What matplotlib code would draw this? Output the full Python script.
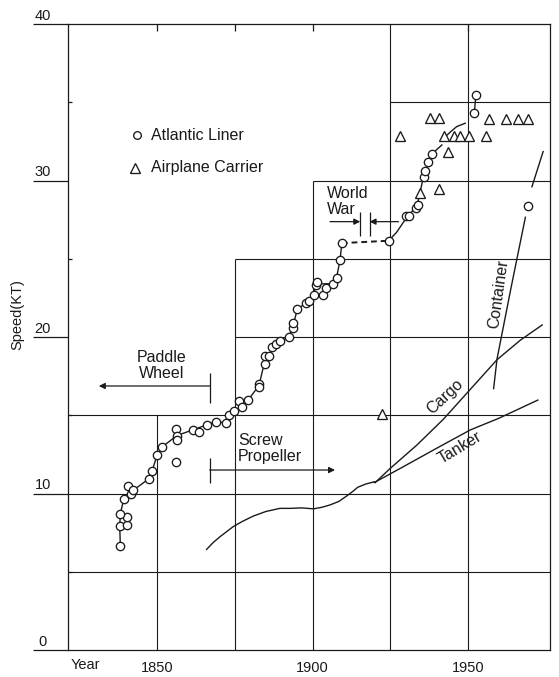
import matplotlib
matplotlib.use("Agg")
import matplotlib.pyplot as plt
from matplotlib.ticker import FixedLocator

plt.rcParams['font.family'] = ['Liberation Sans', 'DejaVu Sans']
INK = '#1a1a1a'

# Atlantic liner records (circles)
liner_year = [1838.3, 1838.1, 1840.3, 1840.3, 1838.3, 1839.4, 1840.6, 1841.6, 1842.4,
              1847.5, 1848.5, 1850.1, 1851.7, 1856.3, 1856.2, 1856.4, 1856.5, 1861.5,
              1863.5, 1866.2, 1869.0, 1872.2, 1873.1, 1874.9, 1876.5, 1877.4, 1879.3,
              1882.8, 1882.8, 1884.7, 1884.7, 1886.0, 1887.1, 1888.3, 1889.4, 1892.4,
              1893.6, 1893.8, 1895.1, 1897.9, 1898.7, 1900.3, 1901.1, 1901.3, 1903.5,
              1904.3, 1906.5, 1907.7, 1908.8, 1909.4, 1924.4, 1930.1, 1930.8, 1933.3,
              1933.7, 1935.6, 1936.2, 1937.2, 1938.3, 1951.9, 1952.4, 1969.2]
liner_speed = [6.65, 7.9, 8.0, 8.5, 8.7, 9.65, 10.5, 10.0, 10.2,
               10.95, 11.45, 12.45, 12.97, 12.0, 14.1, 13.7, 13.45, 14.06,
               13.9, 14.4, 14.6, 14.5, 15.0, 15.27, 15.9, 15.5, 15.97,
               17.0, 16.8, 18.3, 18.8, 18.8, 19.34, 19.55, 19.76, 20.0,
               20.55, 20.9, 21.77, 22.2, 22.3, 22.7, 23.3, 23.5, 22.7,
               23.1, 23.4, 23.8, 24.9, 26.0, 26.15, 27.7, 27.75, 28.25,
               28.45, 30.25, 30.6, 31.2, 31.7, 34.3, 35.46, 28.4]

# trend line through the liner records
trend_year = [1838.3, 1838.1, 1838.3, 1839.4, 1841.6, 1842.4, 1847.5, 1848.5, 1850.1,
              1851.7, 1856.4, 1861.5, 1866.2, 1869.0, 1872.2, 1874.9, 1877.4, 1879.3,
              1882.8, 1884.7, 1888.3, 1892.4, 1893.7, 1895.1, 1898.3, 1900.3, 1901.2,
              1906.5, 1907.7, 1908.8, 1909.4]
trend_speed = [6.65, 7.9, 8.7, 9.65, 10.0, 10.2, 10.95, 11.45, 12.45,
               12.97, 13.7, 14.06, 14.4, 14.6, 14.5, 15.27, 15.5, 15.97,
               16.9, 18.5, 19.55, 20.0, 20.7, 21.77, 22.25, 22.7, 23.4,
               23.4, 23.8, 24.9, 26.0]
war_year = [1909.4, 1924.4]
war_speed = [26.0, 26.15]
after_year = [1924.4, 1927.0, 1930.4, 1933.5, 1935.6, 1938.3, 1941.5]
after_speed = [26.15, 26.7, 27.7, 28.35, 30.25, 31.7, 32.27]
tail_year = [1942.6, 1944.5, 1946.3, 1949.0]
tail_speed = [32.8, 33.15, 33.45, 33.66]
late_year = [1951.9, 1952.4]
late_speed = [34.3, 35.46]

# airplane carriers (triangles)
carrier_year = [1922.4, 1927.9, 1934.6, 1937.8, 1940.5, 1940.6, 1942.3, 1943.4, 1945.3,
                1947.4, 1950.3, 1955.7, 1956.5, 1962.2, 1965.8, 1969.0]
carrier_speed = [15.1, 32.85, 29.2, 34.0, 34.0, 29.45, 32.85, 31.85, 32.85,
                 32.85, 32.85, 32.85, 33.9, 33.9, 33.9, 33.9]

# merchant ships
general_year = [1866.0, 1868.0, 1870.3, 1874.5, 1877.5, 1881.0, 1885.0, 1889.5, 1892.8,
                1896.5, 1900.3, 1903.0, 1905.6, 1908.5, 1911.0, 1913.0, 1914.5, 1917.0,
                1919.8]
general_speed = [6.43, 6.85, 7.24, 7.88, 8.22, 8.56, 8.85, 9.05, 9.05,
                 9.08, 9.02, 9.12, 9.27, 9.5, 9.85, 10.15, 10.4, 10.6,
                 10.75]
cargo_year = [1920.1, 1924.9, 1933.5, 1942.0, 1950.6, 1959.2, 1966.7, 1973.7]
cargo_speed = [10.7, 11.6, 13.1, 14.75, 16.65, 18.55, 19.8, 20.77]
tanker_year = [1919.8, 1929.2, 1939.9, 1950.6, 1959.7, 1972.3]
tanker_speed = [10.7, 11.72, 12.9, 14.06, 14.8, 15.97]
container_year = [1958.1, 1959.2, 1963.7, 1968.3, 1970.4, 1974.0]
container_speed = [16.7, 18.6, 23.15, 27.65, 29.6, 31.85]

# staggered grid
hgrid_y = [5, 10, 15, 20, 25, 30, 35]
hgrid_from = [1821.5, 1821.5, 1821.5, 1875, 1875, 1900, 1925]
vgrid_x = [1850, 1875, 1900, 1925, 1950]
vgrid_top = [15, 25, 30, 40, 40]

XMIN, XMAX = 1821.5, 1976.2
FS = 11.5

fig = plt.figure(figsize=(5.59, 6.77), dpi=100)
ax = fig.add_axes([68 / 559, 27 / 677, 482 / 559, 626 / 677])
ax.set_xlim(XMIN, XMAX)
ax.set_ylim(0, 40)

for s in ax.spines.values():
    s.set_color(INK)
    s.set_linewidth(0.9)

ax.hlines(hgrid_y, hgrid_from, XMAX, color=INK, lw=0.8, zorder=1)
ax.vlines(vgrid_x, 0, vgrid_top, color=INK, lw=0.8, zorder=1)

# y ticks: long outward majors, short inward minors
ax.yaxis.set_major_locator(FixedLocator([0, 10, 20, 30, 40]))
ax.yaxis.set_minor_locator(FixedLocator([5, 15, 25, 35]))
ax.tick_params(axis='y', which='major', direction='out', length=25, width=0.9,
               color=INK, labelleft=False)
ax.tick_params(axis='y', which='minor', direction='in', length=3, width=0.9, color=INK)
for v in [0, 10, 20, 30, 40]:
    ax.text(-0.052, v + 0.28, str(v), transform=ax.get_yaxis_transform(),
            ha='center', va='baseline', fontsize=10.5, color=INK)

ax.xaxis.set_major_locator(FixedLocator([1850, 1900, 1950]))
ax.xaxis.set_minor_locator(FixedLocator([1875]))
ax.tick_params(axis='x', which='both', bottom=False, top=True, direction='in',
               length=5, width=0.9, color=INK, labelsize=10.5, labelcolor=INK, pad=8)
ax.text(1822.2, -0.95, 'Year', ha='left', va='center', fontsize=10.5, color=INK)
fig.text(17 / 559, 1 - 315 / 677, 'Speed(KT)', rotation=90, ha='center', va='center',
         fontsize=10.5, color=INK)

line_kw = dict(color=INK, lw=1.0, zorder=2)
ax.plot(trend_year, trend_speed, **line_kw)
ax.plot(war_year, war_speed, color=INK, lw=1.4, dashes=(3, 2), zorder=2)
ax.plot(after_year, after_speed, **line_kw)
ax.plot(tail_year, tail_speed, **line_kw)
ax.plot(late_year, late_speed, **line_kw)
ax.plot(general_year, general_speed, **line_kw)
ax.plot(cargo_year, cargo_speed, **line_kw)
ax.plot(tanker_year, tanker_speed, **line_kw)
ax.plot(container_year[:4], container_speed[:4], **line_kw)
ax.plot(container_year[4:], container_speed[4:], **line_kw)

ax.plot(liner_year, liner_speed, 'o', ms=6.0, mfc='white', mec=INK, mew=0.95,
        ls='none', zorder=3)
ax.plot(carrier_year, carrier_speed, '^', ms=7.0, mfc='white', mec=INK, mew=0.95,
        ls='none', zorder=3)

# legend
ax.plot([1843.6], [32.9], 'o', ms=5.5, mfc='white', mec=INK, mew=0.95)
ax.plot([1842.9], [30.8], '^', ms=6.5, mfc='white', mec=INK, mew=0.95)
ax.text(1848.1, 32.9, 'Atlantic Liner', ha='left', va='center', fontsize=FS, color=INK)
ax.text(1848.1, 30.8, 'Airplane Carrier', ha='left', va='center', fontsize=FS, color=INK)

arrow_kw = dict(arrowstyle='-|>', color=INK, lw=0.9, mutation_scale=9,
                shrinkA=0, shrinkB=0)

# paddle wheel
ax.text(1851.6, 18.2, 'Paddle\nWheel', ha='center', va='center', fontsize=FS,
        color=INK, linespacing=1.1)
ax.annotate('', xy=(1831.4, 16.87), xytext=(1867.0, 16.87), arrowprops=arrow_kw)
ax.vlines([1867.0], 15.8, 17.7, color=INK, lw=0.9)

# screw propeller
ax.text(1876.0, 12.9, 'Screw\nPropeller', ha='left', va='center', fontsize=FS,
        color=INK, linespacing=1.1)
ax.annotate('', xy=(1907.2, 11.5), xytext=(1867.0, 11.5), arrowprops=arrow_kw)
ax.vlines([1867.0], 10.67, 12.3, color=INK, lw=0.9)

# world war
ax.text(1904.5, 28.65, 'World\nWar', ha='left', va='center', fontsize=FS,
        color=INK, linespacing=1.1)
ax.annotate('', xy=(1915.3, 27.37), xytext=(1905.6, 27.37), arrowprops=arrow_kw)
ax.annotate('', xy=(1918.3, 27.37), xytext=(1927.6, 27.37), arrowprops=arrow_kw)
ax.vlines([1915.3, 1918.3], 26.45, 28.0, color=INK, lw=0.9)

ax.text(1959.6, 22.75, 'Container', rotation=82, ha='center', va='center',
        fontsize=FS, color=INK, rotation_mode='anchor')
ax.text(1942.6, 16.2, 'Cargo', rotation=43, ha='center', va='center',
        fontsize=FS, color=INK, rotation_mode='anchor')
ax.text(1947.4, 12.9, 'Tanker', rotation=31, ha='center', va='center',
        fontsize=FS, color=INK, rotation_mode='anchor')

fig.savefig('out.png', dpi=100)
